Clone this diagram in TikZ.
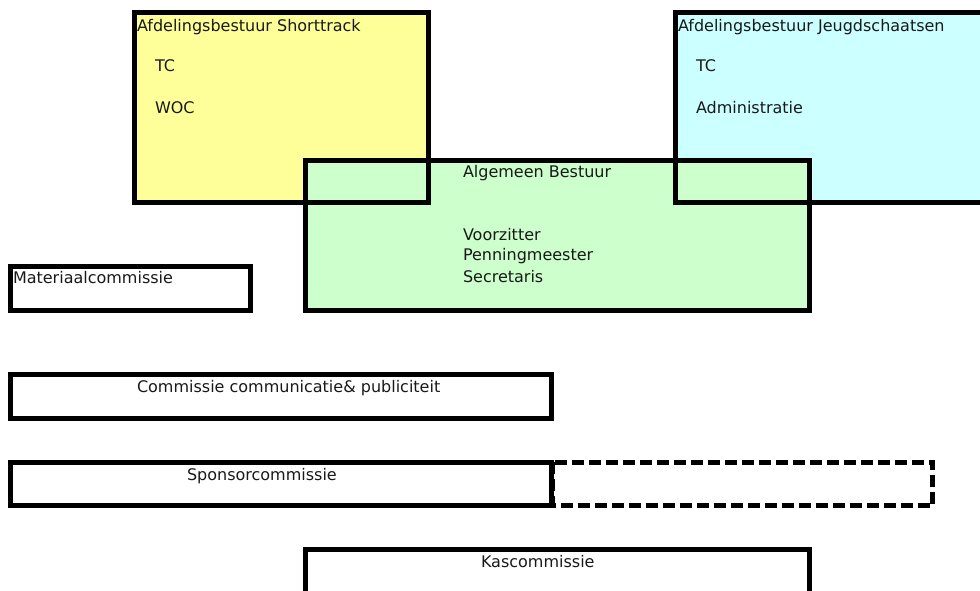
\documentclass[tikz,border=0pt]{standalone}
\usepackage{fontspec}
\setmainfont{DejaVu Sans}
\definecolor{boxyellow}{HTML}{FFFF99}
\definecolor{boxgreen}{HTML}{CCFFCC}
\definecolor{boxcyan}{HTML}{CCFFFF}
\tikzset{
  frame/.style={draw=black, line width=3.5pt, line join=miter},
  dashframe/.style={frame, dash pattern=on 9pt off 3.75pt},
  lbl/.style={anchor=base west, inner sep=0pt, outer sep=0pt, text=black!90,
    font=\fontsize{12}{14}\selectfont}
}
\begin{document}
\begin{tikzpicture}[x=0.75pt, y=-0.75pt]
\useasboundingbox (0,0) rectangle (980,591);
\clip (0,0) rectangle (980,591);
% fills
\fill[boxyellow] (134.25,12.25) rectangle (428.75,202.75);
\fill[boxcyan] (675.25,12.25) rectangle (1000,202.75);
\fill[boxgreen] (305.25,160.25) rectangle (809.75,310.75);
% frames
\draw[frame] (134.25,12.25) rectangle (428.75,202.75);
\draw[frame] (675.25,12.25) rectangle (1000,202.75);
\draw[frame] (305.25,160.25) rectangle (809.75,310.75);
\draw[frame] (10.25,266.25) rectangle (250.75,310.75);
\draw[frame] (10.25,374.25) rectangle (551.75,418.75);
\draw[dashframe] (553,462.25) rectangle (932.75,505.75);
\draw[frame] (10.25,462.25) rectangle (551.75,505.75);
\draw[frame] (305.25,549.25) rectangle (809.75,620);
% texts
\node[lbl] (st) at (137,31.5) {Afdelingsbestuur Shorttrack};
\node[lbl] (sttc) at (155,71.5) {TC};
\node[lbl] (stwoc) at (155,113.5) {WOC};
\node[lbl] (jg) at (678,31.5) {Afdelingsbestuur Jeugdschaatsen};
\node[lbl] (jgtc) at (696,71.5) {TC};
\node[lbl] (jgadm) at (696,113.5) {Administratie};
\node[lbl] (ab) at (463,177.5) {Algemeen Bestuur};
\node[lbl] (vz) at (463,240.5) {Voorzitter};
\node[lbl] (pm) at (463,260.5) {Penningmeester};
\node[lbl] (sc) at (463,282) {Secretaris};
\node[lbl] (mat) at (13,283.5) {Materiaalcommissie};
\node[lbl] (com) at (137,392.5) {Commissie communicatie\& publiciteit};
\node[lbl] (spo) at (187,480.5) {Sponsorcommissie};
\node[lbl] (kas) at (481,567.5) {Kascommissie};
\end{tikzpicture}
\end{document}
